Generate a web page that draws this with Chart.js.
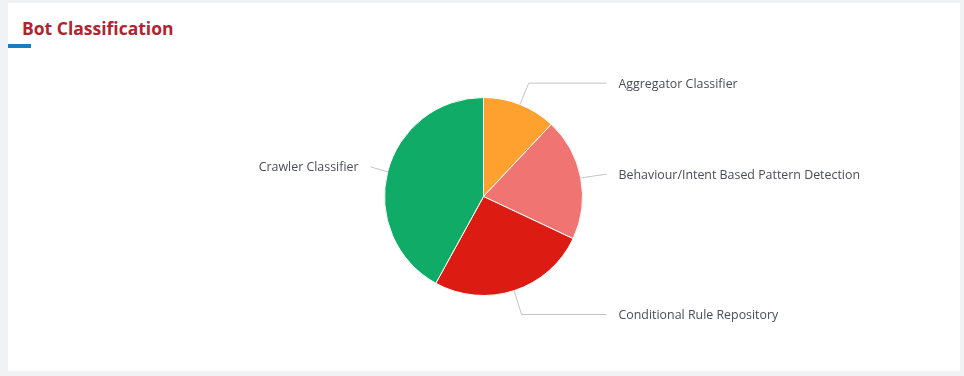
<!DOCTYPE html>
<html>
<head>
<meta charset="utf-8">
<script src="https://cdn.jsdelivr.net/npm/chart.js@4.4.0/dist/chart.umd.min.js"></script>
<style>
  html, body { margin: 0; padding: 0; }
  body { width: 964px; height: 376px; background: #f1f2f4; position: relative; overflow: hidden; font-family: 'Open Sans', sans-serif; }
  .card { position: absolute; left: 8px; top: 3px; width: 952px; height: 368px; background: #fff; }
  .title { position: absolute; left: 22px; top: 16px; font-size: 17.5px; font-weight: bold; color: #b3222f; }
  .bar { position: absolute; left: 8px; top: 44px; width: 23px; height: 4px; background: #1b7cc0; }
  #wrap { position: absolute; left: 0; top: 0; width: 964px; height: 376px; }
</style>
</head>
<body>
<div class="card"></div>
<div class="title">Bot Classification</div>
<div class="bar"></div>
<div id="wrap"><canvas id="pie"></canvas></div>
<script>
const categories = ['Aggregator Classifier', 'Behaviour/Intent Based Pattern Detection', 'Conditional Rule Repository', 'Crawler Classifier'];
const values = [12, 20, 26, 42];
const colors = ['#ffa12f', '#f07472', '#dc1c12', '#10ac67'];

// draws the outside labels with elbow connectors
const outsideLabels = {
    id: 'outsideLabels',
    afterDatasetsDraw(chart) {
        const ctx = chart.ctx;
        const meta = chart.getDatasetMeta(0);
        ctx.save();
        ctx.font = '12.4px "Open Sans", sans-serif';
        ctx.textBaseline = 'middle';
        meta.data.forEach((arc, i) => {
            const p = arc.getProps(['x', 'y', 'startAngle', 'endAngle', 'outerRadius'], true);
            const mid = (p.startAngle + p.endAngle) / 2;
            const cos = Math.cos(mid), sin = Math.sin(mid);
            const right = cos >= 0;
            const x0 = p.x + cos * p.outerRadius;
            const y0 = p.y + sin * p.outerRadius;
            let x1 = p.x + cos * (p.outerRadius + 24);
            const y1 = p.y + sin * (p.outerRadius + 24) + 1;
            let x2;
            if (right) {
                x2 = p.x + p.outerRadius + 24;
            } else {
                x1 = Math.max(x1, p.x - p.outerRadius - 14);
                x2 = x1;
            }
            ctx.strokeStyle = '#c4c4c4';
            ctx.lineWidth = 1;
            ctx.beginPath();
            ctx.moveTo(x0, y0);
            ctx.lineTo(x1, y1);
            ctx.lineTo(x2, y1);
            ctx.stroke();
            ctx.fillStyle = '#4a4c5a';
            ctx.textAlign = right ? 'left' : 'right';
            ctx.fillText(categories[i], right ? x2 + 12 : x2 - 12, y1 + 1);
        });
        ctx.restore();
    }
};

new Chart(document.getElementById('pie'), {
    type: 'pie',
    data: {
        labels: categories,
        datasets: [{
            data: values,
            backgroundColor: colors,
            borderColor: '#ffffff',
            borderWidth: 1
        }]
    },
    options: {
        responsive: true,
        maintainAspectRatio: false,
        animation: false,
        layout: { padding: { top: 97, bottom: 80, left: 200, right: 197 } },
        plugins: {
            legend: { display: false },
            tooltip: { enabled: false }
        }
    },
    plugins: [outsideLabels]
});
</script>
</body>
</html>
